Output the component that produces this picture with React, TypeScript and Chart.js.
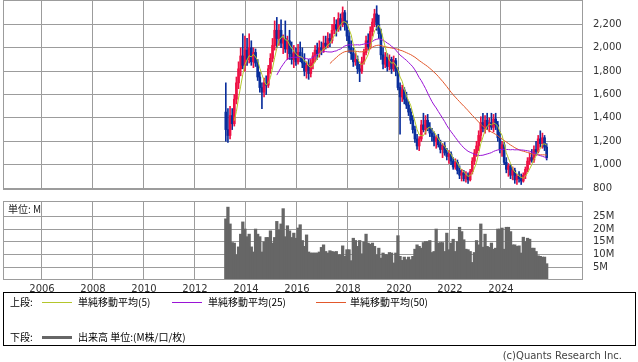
import React, { useEffect, useRef } from "react";
import { Chart, registerables } from "chart.js";

Chart.register(...registerables);

// Monthly data starting March 2013
const START_YEAR = 2013;
const START_MONTH = 3;

const opens = [
  1450, 1300, 1250, 1420, 1350, 1560, 1700, 1820, 1930, 1850,
  1980, 1900, 2000, 1880, 1960, 1870, 1750, 1660, 1620, 1700,
  1680, 1820, 1910, 2020, 2150, 2080, 2150, 2040, 2080, 1990,
  2060, 1950, 1900, 1960, 1880, 1960, 1920, 1870, 1800, 1850,
  1780, 1870, 1930, 1980, 1950, 2000, 1980, 2040, 2020, 2080,
  2060, 2150, 2200, 2160, 2250, 2200, 2300, 2200, 2100, 2000,
  1950, 1880, 1900, 1820, 1800, 1880, 1960, 2060, 2010, 2140,
  2220, 2290, 2200, 2120, 1940, 1860, 1920, 1840, 1900, 1820,
  1890, 1800, 1660, 1580, 1640, 1560, 1510, 1450, 1380, 1300,
  1220, 1160, 1220, 1340, 1300, 1380, 1320, 1270, 1240, 1200,
  1230, 1170, 1130, 1160, 1100, 1070, 1090, 1030, 980, 1020,
  950, 910, 930, 880, 910, 870, 940, 1030, 1100, 1160,
  1250, 1360, 1310, 1380, 1330, 1360, 1320, 1390, 1340, 1230,
  1130, 1170, 1020, 960, 990, 910, 950, 870, 900, 880,
  860, 910, 960, 1030, 1060, 1040, 1130, 1110, 1220, 1180,
  1230, 1150,
];

const highs = [
  1700, 1480, 1500, 1480, 1600, 1750, 1880, 2000, 2120, 2100,
  2080, 2120, 2060, 2000, 1990, 1900, 1790, 1700, 1740, 1760,
  1850, 1950, 2080, 2230, 2260, 2200, 2240, 2110, 2230, 2100,
  2150, 2050, 2020, 2000, 2030, 2050, 2000, 1950, 1880, 1900,
  1900, 1960, 2020, 2040, 2060, 2050, 2100, 2100, 2130, 2120,
  2200, 2260, 2240, 2300, 2290, 2350, 2320, 2230, 2150, 2060,
  2000, 1960, 1930, 1860, 1920, 1990, 2100, 2120, 2180, 2250,
  2330, 2360, 2280, 2160, 2000, 1960, 1950, 1940, 1920, 1930,
  1910, 1830, 1700, 1680, 1660, 1620, 1540, 1480, 1420, 1330,
  1260, 1240, 1380, 1440, 1420, 1430, 1360, 1310, 1280, 1250,
  1260, 1210, 1180, 1190, 1140, 1120, 1110, 1060, 1050, 1040,
  990, 960, 950, 940, 930, 960, 1060, 1130, 1200, 1290,
  1410, 1440, 1420, 1440, 1400, 1440, 1430, 1440, 1370, 1280,
  1200, 1190, 1060, 1010, 1000, 980, 970, 920, 940, 920,
  930, 980, 1060, 1100, 1130, 1160, 1200, 1250, 1290, 1270,
  1250, 1180,
];

const lows = [
  1200, 1190, 1220, 1300, 1330, 1520, 1650, 1760, 1820, 1800,
  1850, 1870, 1850, 1830, 1840, 1720, 1620, 1480, 1580, 1600,
  1660, 1780, 1880, 1980, 2000, 2020, 2000, 1950, 1960, 1900,
  1900, 1860, 1830, 1850, 1860, 1880, 1830, 1760, 1740, 1730,
  1750, 1820, 1880, 1900, 1920, 1940, 1960, 1990, 2000, 2010,
  2040, 2120, 2100, 2140, 2150, 2180, 2150, 2060, 1960, 1900,
  1840, 1850, 1780, 1710, 1780, 1860, 1940, 1980, 1990, 2100,
  2180, 2150, 2080, 1900, 1820, 1830, 1800, 1810, 1780, 1800,
  1760, 1640, 1260, 1540, 1520, 1480, 1420, 1350, 1270, 1190,
  1130, 1120, 1200, 1280, 1260, 1290, 1240, 1200, 1160, 1140,
  1150, 1100, 1060, 1080, 1040, 1010, 1000, 960, 960, 920,
  880, 860, 860, 850, 840, 860, 920, 1000, 1070, 1120,
  1200, 1280, 1270, 1300, 1280, 1300, 1280, 1300, 1200, 1100,
  1070, 1000, 930, 900, 880, 870, 840, 830, 850, 830,
  850, 880, 940, 1000, 1020, 1020, 1080, 1100, 1150, 1140,
  1120, 1040,
];

const closes = [
  1300, 1250, 1420, 1350, 1560, 1700, 1820, 1930, 1850, 1980,
  1900, 2000, 1880, 1960, 1870, 1750, 1660, 1620, 1700, 1680,
  1820, 1910, 2020, 2150, 2080, 2150, 2040, 2080, 1990, 2060,
  1950, 1900, 1960, 1880, 1960, 1920, 1870, 1800, 1850, 1780,
  1870, 1930, 1980, 1950, 2000, 1980, 2040, 2020, 2080, 2060,
  2150, 2200, 2160, 2250, 2200, 2300, 2200, 2100, 2000, 1950,
  1880, 1900, 1820, 1800, 1880, 1960, 2060, 2010, 2140, 2220,
  2290, 2200, 2120, 1940, 1860, 1920, 1840, 1900, 1820, 1890,
  1800, 1660, 1580, 1640, 1560, 1510, 1450, 1380, 1300, 1220,
  1160, 1220, 1340, 1300, 1380, 1320, 1270, 1240, 1200, 1230,
  1170, 1130, 1160, 1100, 1070, 1090, 1030, 980, 1020, 950,
  910, 930, 880, 910, 870, 940, 1030, 1100, 1160, 1250,
  1360, 1310, 1380, 1330, 1360, 1320, 1390, 1340, 1230, 1130,
  1170, 1020, 960, 990, 910, 950, 870, 900, 880, 860,
  910, 960, 1030, 1060, 1040, 1130, 1110, 1220, 1180, 1230,
  1150, 1060,
];

// Volume in millions
const volumes = [
  24, 28.6, 22, 14.7, 14.5, 9.9, 13, 18, 22.8, 20,
  17, 18, 13, 11, 20, 18, 17, 11, 15, 16.7,
  16.7, 19.3, 14.5, 16.7, 23, 19.7, 22, 28, 17, 21.3,
  19.3, 16.7, 18.4, 16.4, 20.4, 21.7, 15.5, 13.2, 17.7, 11,
  10.6, 10.6, 10.6, 10.6, 11, 12.8, 13.8, 11.2, 10.6, 11.5,
  11.2, 11, 11.2, 9.9, 9.9, 13.4, 9.3, 11.9, 11.9, 7.6,
  16.4, 15.5, 13.2, 15.5, 10.3, 15, 18, 14.5, 14, 14.5,
  13.2, 9.9, 12.5, 8.6, 10.6, 10,
  9.9, 10.8, 10.6, 6.7, 10.6, 17.4, 9.3, 7.7, 9, 8,
  9, 8, 9.3, 12.1, 13.8, 13.2, 12.5, 14.7, 15.1, 15.1,
  15.5, 10.8, 11.2, 20, 14.5, 14.7, 14.7, 11.2, 18.4, 11.9,
  14.5, 16, 11.2, 15.1, 20.7, 19, 15.8, 12.1, 11.9, 11.2,
  6.9, 10.8, 15.5, 13.8, 22, 12.9, 18, 13.2, 12.8, 14.5,
  12.1, 12.5, 20, 20, 20.4, 12.1, 20.7, 20.7, 19, 13.8,
  13.8, 13.2, 13.4, 10.6, 16.8, 15.1, 16.4, 16, 12.5, 12.5,
  11.2, 9.5, 9.3, 9, 9, 6.4,
];

const yearTicks = [2006, 2008, 2010, 2012, 2014, 2016, 2018, 2020, 2022, 2024];
const priceTicks = [800, 1000, 1200, 1400, 1600, 1800, 2000, 2200];
const volumeTicks = [5, 10, 15, 20, 25];
const maPeriods = [5, 25, 50];

const GRID = "#9c9c9c";
const UP = "#ee1144";
const DOWN = "#0a2e9c";
const MA_COLORS = ["#b4c62c", "#9a14d6", "#e2582c"];
const VOL_COLOR = "#666666";
const TEXT = "#333333";
const X_MIN = 2004.471;
const X_MAX = 2027.216;
const AXIS_FONT = { family: "DejaVu Sans", size: 10 };
const JP_FONT = "'Noto Sans CJK JP', 'DejaVu Sans', sans-serif";

function monthX(i: number) {
  return START_YEAR + (START_MONTH - 1 + i + 0.5) / 12;
}

function sma(values: number[], n: number) {
  return values.map((_, i) => {
    if (i < n - 1) return null;
    let s = 0;
    for (let k = i - n + 1; k <= i; k++) s += values[k];
    return s / n;
  });
}

// horizontal grid lines + frame around the plot area
function makeFramePlugin(values: number[]) {
  return {
    id: "frame",
    beforeDatasetsDraw(chart: any) {
      const ctx = chart.ctx;
      const a = chart.chartArea;
      const ys = chart.scales.y;
      ctx.save();
      ctx.fillStyle = GRID;
      const left = Math.round(a.left);
      const width = Math.round(a.right) - left;
      for (let k = 0; k < values.length; k++) {
        const p = ys.getPixelForValue(values[k]);
        ctx.fillRect(left, Math.round(p - 0.5), width, 1);
      }
      ctx.restore();
    },
    afterDatasetsDraw(chart: any) {
      const ctx = chart.ctx;
      const a = chart.chartArea;
      ctx.save();
      ctx.fillStyle = GRID;
      const l = Math.round(a.left);
      const t = Math.round(a.top);
      const r = Math.round(a.right) - 1;
      const b = Math.round(a.bottom) - 1;
      ctx.fillRect(l, t, r - l + 1, 1);
      ctx.fillRect(l, b, r - l + 1, 1);
      ctx.fillRect(l, t, 1, b - t + 1);
      ctx.fillRect(r, t, 1, b - t + 1);
      ctx.restore();
    },
  };
}

function xScale(showLabels: boolean) {
  return {
    type: "linear",
    min: X_MIN,
    max: X_MAX,
    offset: false,
    grid: { color: GRID, drawTicks: false, offset: false, lineWidth: 1 },
    border: { display: false },
    afterBuildTicks: (axis: any) => {
      axis.ticks = yearTicks.map((v) => ({ value: v }));
    },
    afterFit: (axis: any) => {
      axis.height = showLabels ? 20 : 0;
      axis.paddingLeft = 0;
      axis.paddingRight = 0;
    },
    ticks: {
      display: showLabels,
      autoSkip: false,
      maxRotation: 0,
      callback: (v: any) => String(v),
      font: AXIS_FONT,
      color: TEXT,
      padding: 3,
    },
  };
}

function yScale(min: number, max: number, values: number[], fmt: (v: number) => string) {
  return {
    type: "linear",
    position: "right",
    min,
    max,
    grid: { display: false, drawTicks: false },
    border: { display: false },
    afterBuildTicks: (axis: any) => {
      axis.ticks = values.map((v) => ({ value: v }));
    },
    afterFit: (axis: any) => {
      axis.width = 55;
      axis.paddingTop = 0;
      axis.paddingBottom = 0;
    },
    ticks: {
      callback: (v: any) => fmt(Number(v)),
      font: AXIS_FONT,
      color: TEXT,
      padding: 10,
    },
  };
}

export default function App() {
  const priceRef = useRef<HTMLCanvasElement>(null);
  const volRef = useRef<HTMLCanvasElement>(null);

  useEffect(() => {
    const xs = closes.map((_, i) => monthX(i));
    const colors = closes.map((c, i) => (c >= opens[i] ? UP : DOWN));

    const maSets = maPeriods.map((p, k) => {
      const m = sma(closes, p);
      return {
        type: "line",
        data: xs.map((x, i) => ({ x, y: m[i] })),
        borderColor: MA_COLORS[k],
        borderWidth: 1,
        pointRadius: 0,
        tension: 0,
        order: 1,
      };
    });

    const priceChart = new Chart(priceRef.current as HTMLCanvasElement, {
      type: "bar",
      data: {
        datasets: [
          {
            type: "bar",
            data: xs.map((x, i) => ({ x, y: [lows[i], highs[i]] })),
            backgroundColor: colors,
            barThickness: 1,
            grouped: false,
            order: 3,
          },
          {
            type: "bar",
            data: xs.map((x, i) => ({ x, y: [opens[i], closes[i]] })),
            backgroundColor: colors,
            barThickness: 2,
            grouped: false,
            order: 2,
          },
          ...maSets,
        ] as any,
      },
      options: {
        responsive: false,
        animation: false,
        devicePixelRatio: 1,
        layout: { padding: { left: 3, right: 0, top: 0, bottom: 5 } },
        plugins: { legend: { display: false }, tooltip: { enabled: false } },
        scales: {
          x: xScale(false) as any,
          y: yScale(783, 2409, priceTicks, (v) => v.toLocaleString("en-US")) as any,
        },
      },
      plugins: [makeFramePlugin(priceTicks)],
    } as any);

    const volChart = new Chart(volRef.current as HTMLCanvasElement, {
      type: "bar",
      data: {
        datasets: [
          {
            data: xs.map((x, i) => ({ x, y: volumes[i] })),
            backgroundColor: VOL_COLOR,
            barThickness: 2.6,
            borderWidth: 0,
          },
        ],
      },
      options: {
        responsive: false,
        animation: false,
        devicePixelRatio: 1,
        layout: { padding: { left: 3, right: 0, top: 6, bottom: 0 } },
        plugins: { legend: { display: false }, tooltip: { enabled: false } },
        scales: {
          x: xScale(true) as any,
          y: yScale(0, 31, volumeTicks, (v) => `${v}M`) as any,
        },
      },
      plugins: [makeFramePlugin(volumeTicks)],
    } as any);

    return () => {
      priceChart.destroy();
      volChart.destroy();
    };
  }, []);

  const legendText: React.CSSProperties = {
    position: "absolute",
    fontFamily: JP_FONT,
    fontSize: 10,
    color: "#000",
    lineHeight: "12px",
    whiteSpace: "nowrap",
  };
  const sample = (left: number, top: number, color: string, h: number): React.CSSProperties => ({
    position: "absolute",
    left,
    top,
    width: 30,
    height: h,
    background: color,
  });

  return (
    <div style={{ position: "absolute", left: 0, top: 0, width: 638, height: 362, background: "#fff", overflow: "hidden" }}>
      <canvas ref={priceRef} width={638} height={195} style={{ position: "absolute", left: 0, top: 0 }} />
      <canvas ref={volRef} width={638} height={105} style={{ position: "absolute", left: 0, top: 195 }} />
      <div style={{ ...legendText, left: 8, top: 203, color: "#222" }}>単位: M</div>

      <div style={{ position: "absolute", left: 3, top: 292, width: 633, height: 54, border: "1px solid #000", boxSizing: "border-box" }} />
      <div style={{ ...legendText, left: 10, top: 296 }}>上段:</div>
      <div style={sample(42, 302, MA_COLORS[0], 1)} />
      <div style={{ ...legendText, left: 78, top: 296 }}>単純移動平均(5)</div>
      <div style={sample(172, 302, MA_COLORS[1], 1)} />
      <div style={{ ...legendText, left: 208, top: 296 }}>単純移動平均(25)</div>
      <div style={sample(316, 302, MA_COLORS[2], 1)} />
      <div style={{ ...legendText, left: 350, top: 296 }}>単純移動平均(50)</div>

      <div style={{ ...legendText, left: 10, top: 331 }}>下段:</div>
      <div style={sample(42, 336, VOL_COLOR, 3)} />
      <div style={{ ...legendText, left: 78, top: 331 }}>出来高 単位:(M株/口/枚)</div>

      <div style={{ position: "absolute", right: 16, top: 350, fontFamily: "'DejaVu Sans', sans-serif", fontSize: 10, color: "#444", whiteSpace: "nowrap" }}>
        (c)Quants Research Inc.
      </div>
    </div>
  );
}
